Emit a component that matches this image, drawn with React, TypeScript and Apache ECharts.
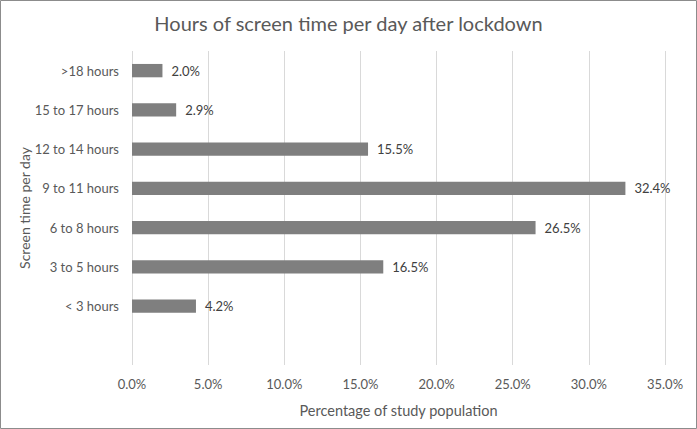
import React, { useEffect, useRef } from "react";
import * as echarts from "echarts";

const categories = ["", "< 3 hours", "3 to 5 hours", "6 to 8 hours", "9 to 11 hours", "12 to 14 hours", "15 to 17 hours", ">18 hours"];
const values: (number | string)[] = ["-", 4.2, 16.5, 26.5, 32.4, 15.5, 2.9, 2.0];
const xTicks = { min: 0, max: 35, interval: 5 };

const FONT = "Lato, 'Open Sans', sans-serif";

export default function App() {
  const ref = useRef<HTMLDivElement>(null);
  useEffect(() => {
    if (!ref.current) return;
    const chart = echarts.init(ref.current, undefined, { renderer: "svg" });
    chart.setOption({
      animation: false,
      backgroundColor: "#ffffff",
      title: {
        text: "Hours of screen time per day after lockdown",
        left: "center",
        top: 8,
        textStyle: { fontFamily: FONT, fontSize: 20, fontWeight: "normal", color: "#595959" },
      },
      graphic: [
        {
          type: "rect",
          shape: { x: 0.5, y: 0.5, width: 696, height: 428 },
          style: { fill: "none", stroke: "#8c8c8c", lineWidth: 1 },
          silent: true,
        },
      ],
      grid: { left: 132, right: 32, top: 51, bottom: 64, containLabel: false, outerBoundsMode: "none" },
      xAxis: {
        type: "value",
        min: xTicks.min,
        max: xTicks.max,
        interval: xTicks.interval,
        name: "Percentage of study population",
        nameLocation: "middle",
        nameGap: 38,
        nameMoveOverlap: false,
        nameTextStyle: { fontFamily: FONT, fontSize: 14.5, color: "#595959" },
        axisLine: { show: false },
        axisTick: { show: false },
        axisLabel: {
          fontFamily: FONT,
          fontSize: 13,
          color: "#595959",
          margin: 12,
          formatter: (v: number) => v.toFixed(1) + "%",
        },
        splitLine: { show: true, lineStyle: { color: "#d9d9d9", width: 1 } },
      },
      yAxis: {
        type: "category",
        data: categories,
        name: "Screen time per day",
        nameLocation: "middle",
        nameGap: 101,
        nameMoveOverlap: false,
        nameRotate: 90,
        nameTextStyle: { fontFamily: FONT, fontSize: 14, color: "#595959" },
        axisLine: { show: false },
        axisTick: { show: false },
        axisLabel: { fontFamily: FONT, fontSize: 13, color: "#595959", margin: 13 },
        splitLine: { show: false },
      },
      series: [
        {
          type: "bar",
          data: values,
          barWidth: "34%",
          itemStyle: { color: "#7f7f7f" },
          label: {
            show: true,
            position: "right",
            distance: 9,
            fontFamily: FONT,
            fontSize: 13,
            color: "#404040",
            formatter: (p: any) => (typeof p.value === "number" ? p.value.toFixed(1) + "%" : ""),
          },
        },
      ],
    });
    return () => chart.dispose();
  }, []);
  return (
    <div
      ref={ref}
      style={{ position: "fixed", left: 0, top: 0, width: 697, height: 429 }}
    />
  );
}
